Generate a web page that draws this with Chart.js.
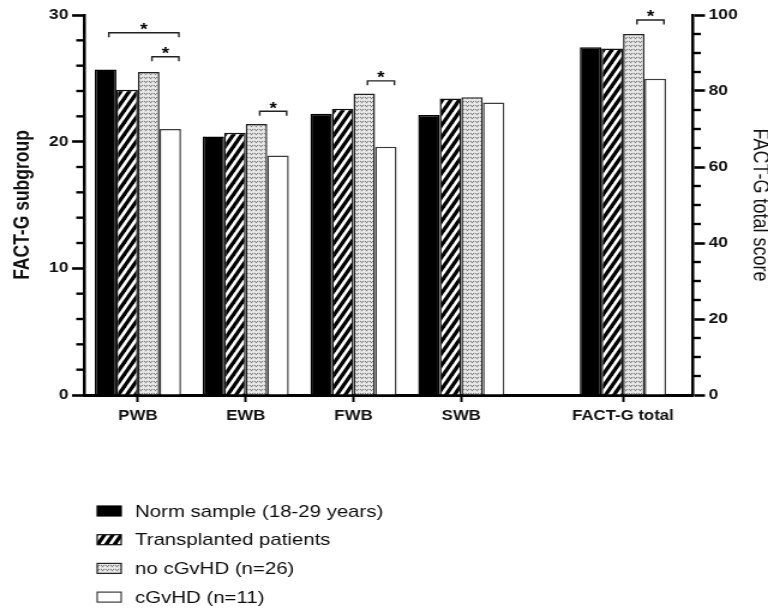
<!DOCTYPE html>
<html>
<head>
<meta charset="utf-8">
<title>FACT-G scores</title>
<script src="https://cdn.jsdelivr.net/npm/chart.js@4.4.1/dist/chart.umd.min.js"></script>
<style>
  html, body { margin: 0; padding: 0; background: #fff; overflow: hidden; }
  /* the figure is laid out on a 640px wide canvas and widened to 768px */
  #stage { width: 640px; height: 610px; transform: scaleX(1.2); transform-origin: 0 0; }
  canvas { display: block; }
</style>
</head>
<body>
<div id="stage"><canvas id="fig" width="640" height="610"></canvas></div>
<script>
// ---- data -------------------------------------------------------------
const categories = ['PWB', 'EWB', 'FWB', 'SWB', 'FACT-G total'];
const slots = [1, 2, 3, 4, 5.5];            // positions on the x axis; the total stands apart
const seriesNames = ['Norm sample (18-29 years)', 'Transplanted patients', 'no cGvHD (n=26)', 'cGvHD (n=11)'];

// subgroup scores (left axis), order PWB, EWB, FWB, SWB
const normSub       = [25.7, 20.4, 22.2, 22.1];
const transplantSub = [24.1, 20.7, 22.6, 23.4];
const noCgvhdSub    = [25.5, 21.4, 23.8, 23.5];
const cgvhdSub      = [21.0, 18.9, 19.6, 23.1];

// FACT-G total score (right axis), one per series
const totalScores = [91.5, 91.2, 95.0, 83.2];

const leftTicks  = [0, 10, 20, 30];
const rightTicks = [0, 20, 40, 60, 80, 100];

// significance marks: category, series pair, bracket height on its axis
const brackets = [
  { cat: 0, from: 0, to: 3, level: 28.6, axis: 'y' },
  { cat: 0, from: 2, to: 3, level: 26.7, axis: 'y' },
  { cat: 1, from: 2, to: 3, level: 22.4, axis: 'y' },
  { cat: 2, from: 2, to: 3, level: 24.8, axis: 'y' },
  { cat: 4, from: 2, to: 3, level: 98.7, axis: 'y1' }
];

// ---- fills ------------------------------------------------------------
function makeHatch() {
  const w = 7, h = 12;
  const t = document.createElement('canvas');
  t.width = w; t.height = h;
  const g = t.getContext('2d');
  g.fillStyle = '#fff';
  g.fillRect(0, 0, w, h);
  g.strokeStyle = '#000';
  g.lineWidth = 3.3;
  for (let k = -2; k <= 2; k++) {
    g.beginPath();
    g.moveTo((k - 1) * w, 2 * h);
    g.lineTo((k + 2) * w, -h);
    g.stroke();
  }
  return g.createPattern(t, 'repeat');
}

function makeSpeckle() {
  const w = 4, h = 4;
  const t = document.createElement('canvas');
  t.width = w; t.height = h;
  const g = t.getContext('2d');
  g.fillStyle = '#dedede';
  g.fillRect(0, 0, w, h);
  g.fillStyle = '#7a7a7a';
  g.fillRect(0, 1, 1, 1);
  g.fillRect(1, 2, 1, 1);
  g.fillRect(2, 1, 1, 1);
  g.fillStyle = '#f7f7f7';
  g.fillRect(3, 3, 1, 1);
  g.fillRect(1, 0, 1, 1);
  return g.createPattern(t, 'repeat');
}

const fills   = ['#000', makeHatch(), makeSpeckle(), '#fff'];
const borders = ['#000', '#111', '#222', '#3c3c3c'];
const subSeries = [normSub, transplantSub, noCgvhdSub, cgvhdSub];

const datasets = [];
subSeries.forEach((vals, s) => {
  datasets.push({
    label: seriesNames[s],
    data: slots.map((x, i) => ({ x, y: i < vals.length ? vals[i] : null })),
    yAxisID: 'y',
    backgroundColor: fills[s],
    borderColor: borders[s],
    borderWidth: 1.5,
    skipNull: true,
    categoryPercentage: 0.8,
    barPercentage: 1.0
  });
});
totalScores.forEach((v, s) => {
  datasets.push({
    label: seriesNames[s] + ' total',
    data: slots.map((x, i) => ({ x, y: i === slots.length - 1 ? v : null })),
    yAxisID: 'y1',
    backgroundColor: fills[s],
    borderColor: borders[s],
    borderWidth: 1.5,
    skipNull: true,
    categoryPercentage: 0.8,
    barPercentage: 1.0
  });
});

// ---- plugins ----------------------------------------------------------
const FONT = '"Liberation Sans", Arial, Helvetica, sans-serif';

// short unlabeled ticks between the labeled ones
const minorTicks = {
  id: 'minorTicks',
  afterDraw(chart) {
    const ctx = chart.ctx;
    const area = chart.chartArea;
    ctx.save();
    ctx.strokeStyle = '#000';
    ctx.lineWidth = 2.4;
    const yl = chart.scales.y;
    for (let v = 0; v <= 30; v += 2) {
      if (v % 10 === 0) continue;
      const p = yl.getPixelForValue(v);
      ctx.beginPath(); ctx.moveTo(area.left - 6.5, p); ctx.lineTo(area.left, p); ctx.stroke();
    }
    const yr = chart.scales.y1;
    for (let v = 0; v <= 100; v += 5) {
      if (v % 20 === 0) continue;
      const p = yr.getPixelForValue(v);
      ctx.beginPath(); ctx.moveTo(area.right, p); ctx.lineTo(area.right + 6.5, p); ctx.stroke();
    }
    ctx.restore();
  }
};

// brackets with asterisks above compared bars
const sigBrackets = {
  id: 'sigBrackets',
  afterDatasetsDraw(chart) {
    const ctx = chart.ctx;
    ctx.save();
    ctx.strokeStyle = '#222';
    ctx.lineWidth = 1.4;
    ctx.fillStyle = '#000';
    ctx.font = 'bold 16px ' + FONT;
    ctx.textAlign = 'center';
    ctx.textBaseline = 'alphabetic';
    brackets.forEach(b => {
      const base = b.cat === slots.length - 1 ? subSeries.length : 0;
      const a = chart.getDatasetMeta(base + b.from).data[b.cat];
      const c = chart.getDatasetMeta(base + b.to).data[b.cat];
      const x1 = a.x + a.width * 0.15;
      const x2 = c.x + c.width * 0.4;
      const y = chart.scales[b.axis].getPixelForValue(b.level);
      ctx.beginPath();
      ctx.moveTo(x1, y + 4.5);
      ctx.lineTo(x1, y);
      ctx.lineTo(x2, y);
      ctx.lineTo(x2, y + 4.5);
      ctx.stroke();
      ctx.fillText('*', (x1 + x2) / 2, y + 2.5);
    });
    ctx.restore();
  }
};

// vertical key under the plot
const seriesKey = {
  id: 'seriesKey',
  afterDraw(chart) {
    const ctx = chart.ctx;
    ctx.save();
    ctx.font = '17px ' + FONT;
    ctx.textBaseline = 'middle';
    ctx.textAlign = 'left';
    seriesNames.forEach((name, i) => {
      const ds = chart.data.datasets[i];
      const y = 511 + i * 28.7;
      ctx.fillStyle = ds.backgroundColor;
      ctx.fillRect(81, y - 5, 20, 10);
      ctx.strokeStyle = ds.borderColor;
      ctx.lineWidth = 1.2;
      ctx.strokeRect(81, y - 5, 20, 10);
      ctx.fillStyle = '#0d0d0d';
      ctx.fillText(name, 112.5, y + 1);
    });
    ctx.restore();
  }
};

// ---- chart ------------------------------------------------------------
Chart.defaults.font.family = FONT;
Chart.defaults.color = '#111';

new Chart(document.getElementById('fig'), {
  type: 'bar',
  data: { datasets },
  plugins: [minorTicks, sigBrackets, seriesKey],
  options: {
    responsive: false,
    animation: false,
    layout: { padding: { top: 15, bottom: 175, left: 0, right: 0 } },
    plugins: {
      legend: { display: false },
      tooltip: { enabled: false },
      title: { display: false }
    },
    scales: {
      x: {
        type: 'linear',
        min: 0.5,
        max: 6.15,
        offset: false,
        bounds: 'data',
        z: 1,
        afterBuildTicks: (scale) => { scale.ticks = slots.map(v => ({ value: v })); },
        afterFit: (scale) => { scale.height = 40; },
        ticks: {
          autoSkip: false,
          maxRotation: 0,
          padding: 6,
          color: '#111',
          font: { size: 14, weight: 'bold' },
          callback: (value, index) => categories[index]
        },
        grid: { offset: false, drawOnChartArea: false, drawTicks: true, tickLength: 7, tickWidth: 2, tickColor: '#000' },
        border: { display: true, color: '#000', width: 3 }
      },
      y: {
        position: 'left',
        min: 0,
        max: 30,
        afterBuildTicks: (scale) => { scale.ticks = leftTicks.map(v => ({ value: v })); },
        afterFit: (scale) => { scale.width = 70; },
        ticks: { padding: 3, color: '#111', font: { size: 14.5, weight: 'bold' } },
        grid: { drawOnChartArea: false, drawTicks: true, tickLength: 10, tickWidth: 2.6, tickColor: '#000' },
        border: { display: true, color: '#000', width: 2.5 },
        title: {
          display: true,
          text: 'FACT-G subgroup',
          color: '#111',
          font: { size: 17.5, weight: 'bold' },
          padding: { top: 9, bottom: 0 }
        }
      },
      y1: {
        position: 'right',
        min: 0,
        max: 100,
        afterBuildTicks: (scale) => { scale.ticks = rightTicks.map(v => ({ value: v })); },
        afterFit: (scale) => { scale.width = 62.5; },
        ticks: { padding: 3, color: '#111', font: { size: 14.5, weight: 'bold' } },
        grid: { drawOnChartArea: false, drawTicks: true, tickLength: 10, tickWidth: 2.6, tickColor: '#000' },
        border: { display: true, color: '#000', width: 2.5 },
        title: {
          display: true,
          text: 'FACT-G total score',
          color: '#111',
          font: { size: 18, weight: 'normal', lineHeight: 1 },
          padding: { top: -2, bottom: 0 }
        }
      }
    }
  }
});
</script>
</body>
</html>
